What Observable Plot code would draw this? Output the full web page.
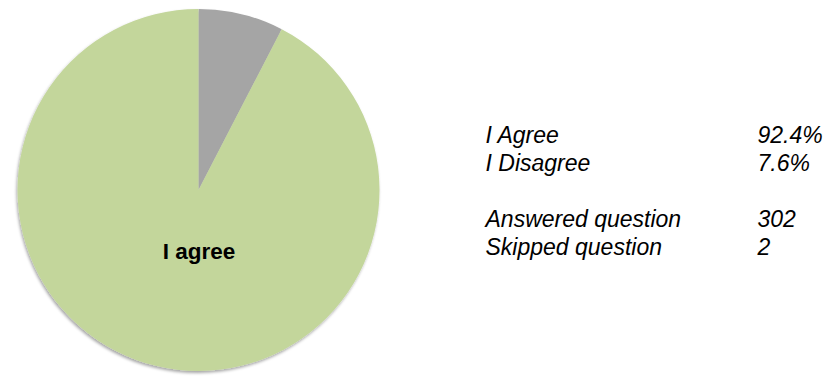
<!DOCTYPE html>
<html>
<head>
<meta charset="utf-8">
<script src="https://cdn.jsdelivr.net/npm/d3@7"></script>
<script src="https://cdn.jsdelivr.net/npm/@observablehq/plot@0.6"></script>
<style>
  html, body { margin: 0; padding: 0; background: #fff; }
  svg { display: block; }
</style>
</head>
<body>
<div id="chart"></div>
<script>
// ---- data ----
const categories = ["I Disagree", "I Agree"];
const shares = [7.6, 92.4];
const sliceColors = ["#a5a5a5", "#c3d69b"];
const pieLabel = "I agree";

const legendLabels = ["I Agree", "I Disagree", "Answered question", "Skipped question"];
const legendValues = ["92.4%", "7.6%", "302", "2"];
const legendRows = [0, 1, 3, 4];

// ---- build ----
const slices = categories.map((c, i) => ({category: c, value: shares[i], color: sliceColors[i]}));
const pie = d3.pie().sort(null).value(d => d.value)(slices);

const cx = 198.5, cy = 190, R = 181;

const pieMark = Plot.dot(pie, {
  x: () => 0,
  y: () => 0,
  render: (index, scales, values, dimensions, context) => {
    const ox = scales.x(0), oy = scales.y(0);
    const r = scales.x(1) - scales.x(0);
    const arc = d3.arc().innerRadius(0).outerRadius(r);
    const svgNS = "http://www.w3.org/2000/svg";
    const g = context.document.createElementNS(svgNS, "g");
    const defs = context.document.createElementNS(svgNS, "defs");
    defs.innerHTML = `<filter id="pieShadow" x="-10%" y="-10%" width="120%" height="120%">
      <feDropShadow dx="-1" dy="2" stdDeviation="1.6" flood-color="#000" flood-opacity="0.35"/></filter>`;
    g.appendChild(defs);
    const inner = context.document.createElementNS(svgNS, "g");
    inner.setAttribute("transform", `translate(${ox},${oy})`);
    inner.setAttribute("filter", "url(#pieShadow)");
    for (const i of index) {
      const d = pie[i];
      const p = context.document.createElementNS(svgNS, "path");
      p.setAttribute("d", arc(d));
      p.setAttribute("fill", d.data.color);
      inner.appendChild(p);
    }
    g.appendChild(inner);
    return g;
  }
});

const agreeSlice = pie.find(d => d.data.category === "I Agree");

const marks = [
  pieMark,
  Plot.text([agreeSlice], {
    x: () => 0, y: () => 0,
    text: () => pieLabel,
    dy: 61,
    fontSize: 22.5, fontWeight: "bold",
    fontFamily: "Liberation Sans, Arial, sans-serif",
    fill: "#000"
  })
];

legendRows.forEach((row, i) => {
  const common = {
    frameAnchor: "top-left",
    textAnchor: "start",
    lineAnchor: "middle",
    dy: 135 + 28 * row,
    fontSize: 23,
    fontStyle: "italic",
    fontFamily: "Liberation Sans, Arial, sans-serif",
    fill: "#000",
    letterSpacing: "0.65px"
  };
  marks.push(Plot.text([legendLabels[i]], {...common, text: d => d, dx: 485}));
  marks.push(Plot.text([legendValues[i]], {...common, text: d => d, dx: 757}));
});

const chart = Plot.plot({
  width: 828,
  height: 378,
  margin: 0,
  x: {type: "linear", domain: [-1, 1], range: [cx - R, cx + R], axis: null},
  y: {type: "linear", domain: [-1, 1], range: [cy + R, cy - R], axis: null},
  style: {background: "#fff", overflow: "visible"},
  marks
});

document.getElementById("chart").appendChild(chart);
</script>
</body>
</html>
